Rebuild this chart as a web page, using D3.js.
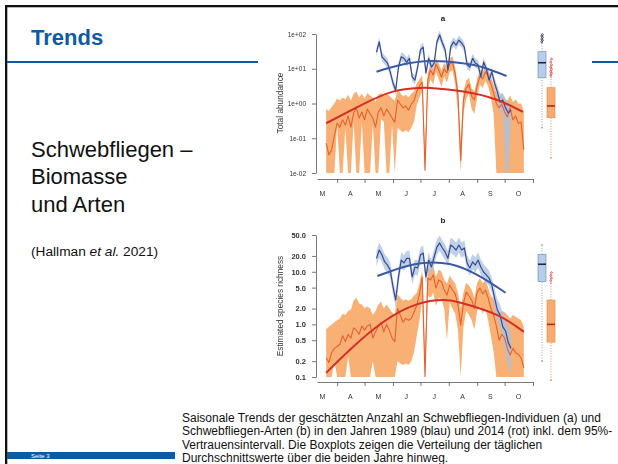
<!DOCTYPE html>
<html>
<head>
<meta charset="utf-8">
<script src="https://cdn.jsdelivr.net/npm/d3@7"></script>
<style>
  html, body { margin: 0; padding: 0; background: #fff; }
  svg { display: block; }
</style>
</head>
<body>
<svg id="slide" width="618" height="464"></svg>
<script>
// ---------- data ----------
// Month axis (day of year)
const monthLabels = ["M", "A", "M", "J", "J", "A", "S", "O"];
const monthMid = [75, 105.5, 136, 166.5, 197, 228, 258.5, 289];
const monthTicks = [91, 121, 152, 182, 213, 244, 274, 305];

// Sampling days of the daily series
const days2014 = [79,82,85,88,91,94,97,100,103,106,109,112,115,118,121,124,127,130,133,136,139,142,145,148,151,154,157,160,163,166,169,172,175,178,181,184,187,190,193,196,199,202,205,208,211,214,217,220,223,226,229,232,235,238,241,244,247,250,253,256,259,262,265,268,271,274,277,280,283,286,289,292,295];
const days1989 = [134,137,140,143,146,149,152,155,158,161,164,167,170,173,176,179,182,185,188,191,194,197,200,203,206,209,212,215,218,221,224,227,230,233,236,239,242,245,248,251,254,257,260,263,266,269,272,275,278,281];

// (a) total abundance, 2014
const abund2014 = [0.072,0.033,0.046,0.12,0.27,0.21,0.34,0.24,0.44,0.21,0.53,0.75,0.38,0.57,0.34,0.69,0.50,0.38,0.21,0.57,0.75,0.44,0.69,0.53,0.38,0.29,1.26,0.96,0.75,0.85,0.64,0.96,1.2,2.2,3.2,4.1,0.012,4.7,9.2,6.6,13.7,9.2,5.8,10,7.6,13.7,15.6,7.1,1.76,0.023,1.26,2.8,3.6,1.6,1.26,3.2,6.2,5.1,8.1,6.2,3.6,2.0,1.0,0.75,0.96,0.57,0.41,0.75,0.34,0.44,0.27,0.29,0.046];
const abund2014Hi = [0.7,0.6,0.8,1.0,1.4,1.2,1.5,1.3,1.8,1.2,1.9,2.2,1.5,1.9,1.4,2.0,1.7,1.5,1.1,1.8,2.0,1.6,1.9,1.7,1.4,1.2,2.5,2.0,1.6,1.8,1.5,1.9,2.2,3.8,5.0,6.5,0.05,7.5,14,10,20,14,9,15,11.5,20,23,11,3.0,0.08,2.2,4.5,5.5,2.7,2.2,5.0,9.5,8,12,9.5,6,3.5,2.0,1.6,1.9,1.4,1.2,1.7,1.1,1.3,1.0,1.0,0.6];
const abund2014Lo = [0,0,0,0,0.25,0,0,0.2,0,0,0.3,0,0,0.3,0,0,0,0.25,0,0,0.35,0.3,0,0,0.25,0,0.2,0.17,0.15,0.17,0.15,0.2,0.3,0.9,1.5,2.2,0,2.3,5,3.5,8,5,3,6,4,8,9,3.5,0.6,0,0.5,1.4,1.9,0.7,0.5,1.5,3.5,2.8,4.5,3.2,1.5,0.5,0,0,0,0,0,0,0,0,0,0,0];

// (a) total abundance, 1989
const abund1989 = [30,59,22,18,14.6,8.1,3.9,2.4,11.2,22,20,15.6,20,5.8,4.7,11.2,35,42,7.6,20,11.2,14.6,59,94,55,35,9.2,42,59,48,67,55,42,13,11.2,20,14.6,13,5.8,15.6,10,4.7,8.1,3.9,2.2,1.1,1.26,0.75,0.53,0.64];
const abund1989Hi = [40.5,80,30,24,19.7,11,5.3,3.3,15,30,27,21,27,7.8,6.4,15,47,57,10.3,27,15,19.7,80,127,74,47,12.4,57,80,65,90,74,57,17.5,15,27,19.7,17.5,7.8,21,13.5,6.4,11,5.3,3.2,1.9,2.0,1.4,1.0,1.0];
const abund1989Lo = [22,44,16.3,13.3,10.8,6.0,2.9,1.8,8.3,16.3,14.8,11.6,14.8,4.3,3.5,8.3,26,31,5.6,14.8,8.3,10.8,44,70,41,26,6.8,31,44,36,50,41,31,9.6,8.3,14.8,10.8,9.6,4.3,11.6,7.4,3.5,6.0,2.9,1.4,0.6,0.5,0,0,0.35];

// (b) estimated species richness, 2014
const rich2014 = [0.23,0.19,0.29,0.35,0.38,0.42,0.61,0.47,0.65,0.55,0.86,0.78,0.65,0.93,0.78,0.93,1.0,0.55,0.72,0.93,1.1,0.72,1.0,0.78,0.55,0.47,2.0,1.5,1.1,1.3,1.2,1.3,1.7,2.3,3.8,8.0,0.1,7.6,7.0,8.7,4.9,7.0,6.4,4.5,3.6,5.6,4.5,3.8,2.4,0.97,2.5,4.1,3.5,2.9,2.0,4.1,4.9,3.8,4.5,3.2,2.0,1.5,0.93,0.5,0.65,0.55,0.35,0.26,0.35,0.29,0.27,0.23,0.15];
const rich2014Hi = [0.8,0.9,1.0,1.1,1.2,1.3,1.6,1.5,1.8,1.9,2.8,3.2,2.5,2.4,2.0,2.2,2.0,1.5,1.8,2.4,2.7,2.0,2.4,2.0,1.7,1.5,3.8,3.2,2.8,3.0,2.8,3.0,3.5,4.0,6.0,11,0.3,12,11,13,8,11,10,7,6,8.5,7,6,4,2.0,4,6.2,5.5,4.5,3.2,6.2,7.5,6,7,5,3.5,3.0,2.2,1.6,1.8,1.7,1.5,1.3,1.5,1.4,1.3,1.2,0.9];
const rich2014Lo = [0,0,0,0.2,0,0,0,0,0.25,0,0,0,0,0,0,0,0,0.2,0,0,0,0,0,0,0,0,0.2,0.18,0.17,0.18,0.17,0.2,0.3,0.6,1.2,3.0,0,3.5,3.2,4.0,2.2,3.2,3.0,2.0,0.5,2.6,2.0,1.6,0.8,0,0.9,1.8,1.5,1.2,0.8,1.8,2.2,1.6,2.0,1.2,0.6,0.3,0,0,0,0,0,0,0,0,0,0,0];

// (b) estimated species richness, 1989
const rich1989 = [18,25.9,20.8,15.4,13.4,10.8,5.2,2.9,8.0,16.7,14.7,18,18,8.0,12.3,11.8,20.8,22.7,8.0,16.7,12.3,19.1,29.5,35.3,28.3,23.8,18,32.2,29.5,25.9,32.2,25.9,28.3,14.7,11.8,15.4,13.4,16.7,12.3,9.9,8.7,7.6,5.6,3.2,1.9,1.5,0.9,0.75,0.45,0.35];
const rich1989Hi = [25,36,29,21.5,18.8,15,7.3,4.1,11.2,23.4,20.6,25,25,11.2,17.2,16.5,29,31.8,11.2,23.4,17.2,26.7,41,49,39.6,33.3,25,45,41,36,45,36,39.6,20.6,16.5,21.5,18.8,23.4,17.2,13.9,12.2,10.6,7.8,4.8,3.0,2.4,1.6,1.3,0.9,0.7];
const rich1989Lo = [12.9,18.5,14.9,11,9.6,7.7,3.7,2.1,5.7,11.9,10.5,12.9,12.9,5.7,8.8,8.4,14.9,16.2,5.7,11.9,8.8,13.6,21,25.2,20.2,17,12.9,23,21,18.5,23,18.5,20.2,10.5,8.4,11,9.6,11.9,8.8,7.1,6.2,5.4,4.0,2.1,1.2,0.9,0.5,0.3,0.15,0.12];

// Seasonal (quadratic) trends
const trendAbund2014Days = [79,113,152,182,193,229,266,294];
const trendAbund2014 = [0.27,0.79,2.2,2.8,2.8,2.2,1.26,0.57];
const trendAbund1989Days = [134,160,194,228,250,276];
const trendAbund1989 = [8.2,12.8,16.7,14.3,11,6.2];
const trendRich2014Days = [79,105,141,178,207,229,266,295];
const trendRich2014 = [0.12,0.33,1.1,2.4,2.9,2.5,1.5,0.72];
const trendRich1989Days = [135,160,185,214,244,275];
const trendRich1989 = [8.3,11.8,14.7,14.0,8.7,4.0];

// Box plots of daily means: [lower whisker, Q1, median, Q3, upper whisker]
const boxYears = ["1989", "2014"];
const boxAbund1989 = [0.2, 5.5, 14.9, 31, 55];
const boxAbund2014 = [0.027, 0.39, 0.85, 2.85, 5.8];
const outAbund1989 = [60, 66, 72, 80, 88, 96];
const outAbund2014 = [6.5, 7.4, 8.4, 9.6, 11, 13, 15.5, 19];
const boxRich1989 = [0.2, 6.5, 13.9, 21.5, 32.3];
const boxRich2014 = [0.087, 0.46, 1.0, 2.9, 6.1];
const outRich1989 = [];
const outRich2014 = [6.8, 7.6, 8.5, 9.6];

// Axis ticks
const ticksAbund = [100, 10, 1, 0.1, 0.01];
const ticksAbundLabels = ["1e+02", "1e+01", "1e+00", "1e-01", "1e-02"];
const ticksRich = [50, 20, 10, 5, 2, 1, 0.5, 0.2, 0.1];
const ticksRichLabels = ["50.0", "20.0", "10.0", "5.0", "2.0", "1.0", "0.5", "0.2", "0.1"];

// Slide text
const slideTitle = "Trends";
const headingLines = ["Schwebfliegen –", "Biomasse", "und Arten"];
const captionLines = [
  "Saisonale Trends der geschätzten Anzahl an Schwebfliegen-Individuen (a) und",
  "Schwebfliegen-Arten (b) in den Jahren 1989 (blau) und 2014 (rot) inkl. dem 95%-",
  "Vertrauensintervall. Die Boxplots zeigen die Verteilung der täglichen",
  "Durchschnittswerte über die beiden Jahre hinweg."
];

// ---------- styles ----------
const FONT = "'Liberation Sans', Arial, Helvetica, sans-serif";
const BRAND = "#0d5ba3";
const C = {
  orangeBand: "#f7a968", orangeLine: "#e8602d", redTrend: "#d42f28",
  blueBand: "#a8c2e2", blueLine: "#384a8f", blueTrend: "#3b5aa6",
  axis: "#555", text: "#333"
};

const svg = d3.select("#slide");
const W = 618, H = 464;
const defs = svg.append("defs");
defs.append("filter").attr("id", "soft")
  .append("feGaussianBlur").attr("stdDeviation", 0.45);

// ---------- slide frame ----------
svg.append("rect").attr("x", 5).attr("y", 5).attr("width", 2.3).attr("height", H - 5).attr("fill", "#111");
svg.append("rect").attr("x", 5).attr("y", 5).attr("width", W - 5).attr("height", 2.3).attr("fill", "#111");
[[7, 258], [592, 618]].forEach(([x1, x2]) =>
  svg.append("line").attr("x1", x1).attr("x2", x2).attr("y1", 62).attr("y2", 62)
    .attr("stroke", BRAND).attr("stroke-width", 2));

svg.append("text").attr("x", 31).attr("y", 45).text(slideTitle)
  .attr("font-family", FONT).attr("font-size", 22).attr("font-weight", "bold").attr("fill", BRAND);

headingLines.forEach((t, i) =>
  svg.append("text").attr("x", 31).attr("y", 156.5 + i * 27.5).text(t)
    .attr("font-family", FONT).attr("font-size", 22).attr("fill", "#111"));

const cite = svg.append("text").attr("x", 31).attr("y", 256)
  .attr("font-family", FONT).attr("font-size", 13.7).attr("fill", "#111");
cite.append("tspan").text("(Hallman ");
cite.append("tspan").attr("font-style", "italic").text("et al.");
cite.append("tspan").text(" 2021)");

captionLines.forEach((t, i) =>
  svg.append("text").attr("x", 182).attr("y", 422 + i * 13.3).text(t)
    .attr("font-family", FONT).attr("font-size", 12).attr("fill", "#111"));

svg.append("rect").attr("x", 7).attr("y", 452).attr("width", 168).attr("height", 7).attr("fill", BRAND);
svg.append("text").attr("x", 31).attr("y", 457.7).text("Seite 3")
  .attr("font-family", FONT).attr("font-size", 6).attr("fill", "#fff");

// ---------- chart ----------
const chart = svg.append("g").attr("filter", "url(#soft)");
const x = d3.scaleLinear().domain([69, 305]).range([317, 533]);
const xBox = d3.scalePoint().domain(boxYears).range([542, 551]);

function panel(cfg) {
  const g = chart.append("g");
  const y = d3.scaleLog().domain(cfg.domain).range(cfg.range);
  const floor = cfg.domain[0];
  const yc = v => y(Math.max(v, floor));

  const clipId = "clip-" + cfg.id;
  defs.append("clipPath").attr("id", clipId).append("rect")
    .attr("x", 318).attr("y", cfg.range[1] - 8)
    .attr("width", 212).attr("height", cfg.range[0] - cfg.range[1] + 8);
  const plot = g.append("g").attr("clip-path", `url(#${clipId})`);

  const band = (days, lo, hi) => d3.area()
    .x((d, i) => x(days[i])).y0((d, i) => yc(lo[i])).y1((d, i) => yc(hi[i]))(days);
  const line = (days, vals, curve) => d3.line()
    .x((d, i) => x(days[i])).y((d, i) => yc(vals[i])).curve(curve || d3.curveLinear)(days);

  plot.append("path").attr("d", band(days2014, cfg.s2014.lo, cfg.s2014.hi))
    .attr("fill", C.orangeBand).attr("opacity", 0.92);
  plot.append("path").attr("d", band(days1989, cfg.s1989.lo, cfg.s1989.hi))
    .attr("fill", C.blueBand).attr("opacity", 0.75);
  plot.append("path").attr("d", line(days2014, cfg.s2014.mean))
    .attr("fill", "none").attr("stroke", C.orangeLine).attr("stroke-width", 1.1).attr("stroke-linejoin", "round");
  plot.append("path").attr("d", line(days1989, cfg.s1989.mean))
    .attr("fill", "none").attr("stroke", C.blueLine).attr("stroke-width", 1.2).attr("stroke-linejoin", "round");
  plot.append("path").attr("d", line(cfg.t2014.days, cfg.t2014.vals, d3.curveNatural))
    .attr("fill", "none").attr("stroke", C.redTrend).attr("stroke-width", 2);
  plot.append("path").attr("d", line(cfg.t1989.days, cfg.t1989.vals, d3.curveNatural))
    .attr("fill", "none").attr("stroke", C.blueTrend).attr("stroke-width", 2);

  // axes
  const yAxis = g.append("g").attr("transform", "translate(316,0)")
    .call(d3.axisLeft(y).tickValues(cfg.ticks).tickFormat((d, i) => cfg.tickLabels[i])
      .tickSize(4).tickPadding(6).tickSizeOuter(0));
  const xAxis = g.append("g").attr("transform", `translate(0,${cfg.axisY})`)
    .call(d3.axisBottom(x).tickValues(monthTicks).tickFormat("").tickSize(4).tickSizeOuter(0));
  [yAxis, xAxis].forEach(a => {
    a.selectAll("path, line").attr("stroke", C.axis).attr("stroke-width", 0.8);
    a.selectAll("text").attr("font-family", FONT).attr("fill", C.text)
      .attr("font-size", cfg.tickFont).attr("font-weight", cfg.tickWeight);
  });
  g.selectAll(null).data(monthLabels).join("text")
    .attr("x", (d, i) => x(monthMid[i])).attr("y", cfg.axisY + 16.5)
    .attr("text-anchor", "middle").text(d => d)
    .attr("font-family", FONT).attr("font-size", 7).attr("fill", C.text);

  g.append("text").attr("transform", `translate(283,${cfg.labelY}) rotate(-90)`)
    .attr("text-anchor", "middle").text(cfg.yLabel)
    .attr("font-family", FONT).attr("font-size", 8.3).attr("fill", C.text);
  g.append("text").attr("x", 443).attr("y", cfg.titleY).attr("text-anchor", "middle")
    .text(cfg.id).attr("font-family", FONT).attr("font-size", 8).attr("font-weight", "bold").attr("fill", "#222");

  // box plots
  const boxes = [
    { year: "1989", s: cfg.box1989, out: cfg.out1989, fill: "#b7cde8", stroke: "#7393c4", med: "#1d2858", wh: "#8a8f9c", outC: "#2a2f45" },
    { year: "2014", s: cfg.box2014, out: cfg.out2014, fill: "#f6ab6f", stroke: "#e7924f", med: "#b52d1c", wh: "#e0786a", outC: "#d2281e" }
  ];
  boxes.forEach(b => {
    const cx = xBox(b.year), hw = 4;
    const bg = g.append("g");
    bg.append("line").attr("x1", cx).attr("x2", cx).attr("y1", y(b.s[0])).attr("y2", y(b.s[1]))
      .attr("stroke", b.wh).attr("stroke-width", 0.9).attr("stroke-dasharray", "1,1.6");
    bg.append("line").attr("x1", cx).attr("x2", cx).attr("y1", y(b.s[3])).attr("y2", y(b.s[4]))
      .attr("stroke", b.wh).attr("stroke-width", 0.9).attr("stroke-dasharray", "1,1.6");
    [b.s[0], b.s[4]].forEach(v => bg.append("line").attr("x1", cx - 1).attr("x2", cx + 1)
      .attr("y1", y(v)).attr("y2", y(v)).attr("stroke", b.wh).attr("stroke-width", 0.9));
    bg.append("rect").attr("x", cx - hw).attr("width", 2 * hw)
      .attr("y", y(b.s[3])).attr("height", y(b.s[1]) - y(b.s[3]))
      .attr("fill", b.fill).attr("stroke", b.stroke).attr("stroke-width", 0.7);
    bg.append("line").attr("x1", cx - hw).attr("x2", cx + hw).attr("y1", y(b.s[2])).attr("y2", y(b.s[2]))
      .attr("stroke", b.med).attr("stroke-width", 1.6);
    bg.selectAll(null).data(b.out).join("circle")
      .attr("cx", (d, i) => cx + (i % 2 ? 0.5 : -0.3)).attr("cy", d => y(d)).attr("r", 0.9)
      .attr("fill", "none").attr("stroke", b.outC).attr("stroke-width", 0.7);
  });
}

panel({
  id: "a", domain: [0.01, 100], range: [173, 34], axisY: 179, labelY: 103, titleY: 21,
  yLabel: "Total abundance", ticks: ticksAbund, tickLabels: ticksAbundLabels,
  tickFont: 6.5, tickWeight: "normal",
  s2014: { mean: abund2014, lo: abund2014Lo, hi: abund2014Hi },
  s1989: { mean: abund1989, lo: abund1989Lo, hi: abund1989Hi },
  t2014: { days: trendAbund2014Days, vals: trendAbund2014 },
  t1989: { days: trendAbund1989Days, vals: trendAbund1989 },
  box1989: boxAbund1989, box2014: boxAbund2014, out1989: outAbund1989, out2014: outAbund2014
});

panel({
  id: "b", domain: [0.1, 50], range: [377, 235], axisY: 382, labelY: 306, titleY: 223,
  yLabel: "Estimated species richness", ticks: ticksRich, tickLabels: ticksRichLabels,
  tickFont: 7.5, tickWeight: "bold",
  s2014: { mean: rich2014, lo: rich2014Lo, hi: rich2014Hi },
  s1989: { mean: rich1989, lo: rich1989Lo, hi: rich1989Hi },
  t2014: { days: trendRich2014Days, vals: trendRich2014 },
  t1989: { days: trendRich1989Days, vals: trendRich1989 },
  box1989: boxRich1989, box2014: boxRich2014, out1989: outRich1989, out2014: outRich2014
});
</script>
</body>
</html>
